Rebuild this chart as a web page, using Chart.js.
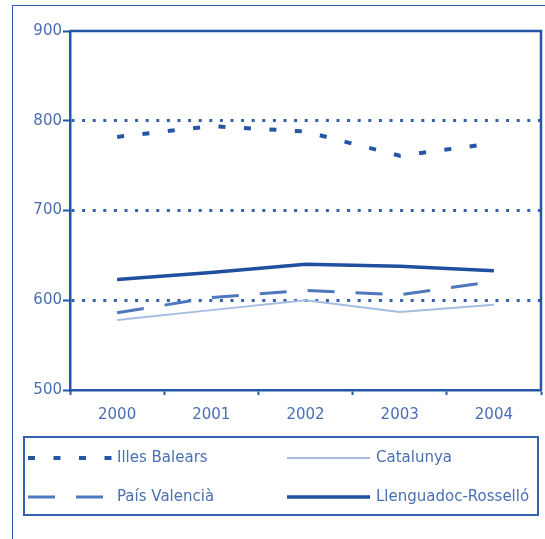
<!DOCTYPE html>
<html>
<head>
<meta charset="utf-8">
<script src="https://cdn.jsdelivr.net/npm/chart.js@4"></script>
<style>
  html, body { margin: 0; padding: 0; background: #ffffff; }
  body { width: 545px; height: 539px; position: relative; overflow: hidden; }
  #frame {
    position: absolute; left: 12px; top: 5px; right: -4px; bottom: -4px;
    border-top: 1.5px solid #2d5fae; border-left: 1.5px solid #2d5fae;
  }
  #wrap { position: absolute; left: 0; top: 0; width: 545px; height: 539px; }
</style>
</head>
<body>
<div id="frame"></div>
<div id="wrap"><canvas id="chart" width="545" height="539"></canvas></div>
<script>
// Years on the category axis
const years = ['2000', '2001', '2002', '2003', '2004'];

// Series values per region
const illesBalears = [782, 794, 788, 761, 775];
const catalunya    = [578, 589, 600, 587, 595];
const paisValencia = [586, 603, 611, 606, 621];
const llenguadoc   = [623, 631, 640, 638, 633];

// Value axis range and step
const yMin = 500, yMax = 900, yStep = 100;

const AXIS = '#2456a6';
const TEXT = '#4a6fb4';
const FONT = '"DejaVu Sans", Verdana, sans-serif';

// Solid top and right edges of the plot box
const plotBox = {
  id: 'plotBox',
  afterDraw(chart) {
    const { ctx, chartArea: a } = chart;
    ctx.save();
    ctx.strokeStyle = AXIS;
    ctx.lineWidth = 2.5;
    ctx.beginPath();
    ctx.moveTo(a.left, a.top);
    ctx.lineTo(a.right, a.top);
    ctx.lineTo(a.right, a.bottom);
    ctx.stroke();
    ctx.restore();
  }
};

// Two-column boxed legend under the axis
const boxedLegend = {
  id: 'boxedLegend',
  afterDraw(chart) {
    const { ctx } = chart;
    const box = { x: 24, y: 437, w: 514, h: 78 };
    const cols = [{ x0: 28, x1: 113, tx: 117 }, { x0: 287, x1: 370, tx: 376 }];
    const rows = [458, 497];
    ctx.save();
    ctx.strokeStyle = '#3461ae';
    ctx.lineWidth = 2;
    ctx.strokeRect(box.x, box.y, box.w, box.h);
    ctx.beginPath();
    ctx.rect(box.x + 1, box.y + 1, box.w - 2, box.h - 2);
    ctx.clip();
    chart.data.datasets.forEach((ds, i) => {
      const c = cols[i % 2], y = rows[Math.floor(i / 2)];
      ctx.save();
      ctx.strokeStyle = ds.borderColor;
      ctx.lineWidth = ds.borderWidth;
      ctx.setLineDash(ds.borderDash || []);
      ctx.beginPath();
      ctx.moveTo(c.x0, y);
      ctx.lineTo(c.x1, y);
      ctx.stroke();
      ctx.restore();
      ctx.fillStyle = TEXT;
      ctx.font = '15px ' + FONT;
      ctx.textBaseline = 'middle';
      ctx.textAlign = 'left';
      ctx.fillText(ds.label, c.tx, y);
    });
    ctx.restore();
  }
};

new Chart(document.getElementById('chart'), {
  type: 'line',
  data: {
    labels: years,
    datasets: [
      { label: 'Illes Balears', data: illesBalears, borderColor: '#2456a6',
        borderWidth: 4, borderDash: [7, 18.5] },
      { label: 'Catalunya', data: catalunya, borderColor: '#a5bde3',
        borderWidth: 2 },
      { label: 'País Valencià', data: paisValencia, borderColor: '#4e78bd',
        borderWidth: 3, borderDash: [27, 21] },
      { label: 'Llenguadoc-Rosselló', data: llenguadoc, borderColor: '#1f4f9f',
        borderWidth: 3.5 }
    ]
  },
  options: {
    responsive: false,
    animation: false,
    devicePixelRatio: 1,
    layout: { padding: { left: 0, top: 31, right: 4, bottom: 109 } },
    elements: {
      point: { radius: 0 },
      line: { tension: 0, borderCapStyle: 'butt', fill: false }
    },
    plugins: { legend: { display: false }, tooltip: { enabled: false } },
    scales: {
      x: {
        type: 'category',
        offset: true,
        afterFit(s) { s.height = 40; },
        grid: {
          offset: true, drawOnChartArea: false,
          tickLength: 5, tickColor: AXIS, tickWidth: 2
        },
        border: { color: AXIS, width: 2.5 },
        ticks: { color: TEXT, font: { family: FONT, size: 15 }, padding: 11, maxRotation: 0 }
      },
      y: {
        min: yMin, max: yMax,
        afterFit(s) { s.width = 70; },
        grid: {
          color: (c) => (c.tick && (c.tick.value === yMin || c.tick.value === yMax)) ? 'rgba(0,0,0,0)' : '#3461ae',
          lineWidth: 3,
          tickLength: 7, tickColor: AXIS, tickWidth: 2, tickBorderDash: []
        },
        border: { color: AXIS, width: 2.5, dash: [3, 7.6] },
        ticks: { stepSize: yStep, color: TEXT, font: { family: FONT, size: 15 }, padding: 1 }
      }
    }
  },
  plugins: [plotBox, boxedLegend]
});
</script>
</body>
</html>
